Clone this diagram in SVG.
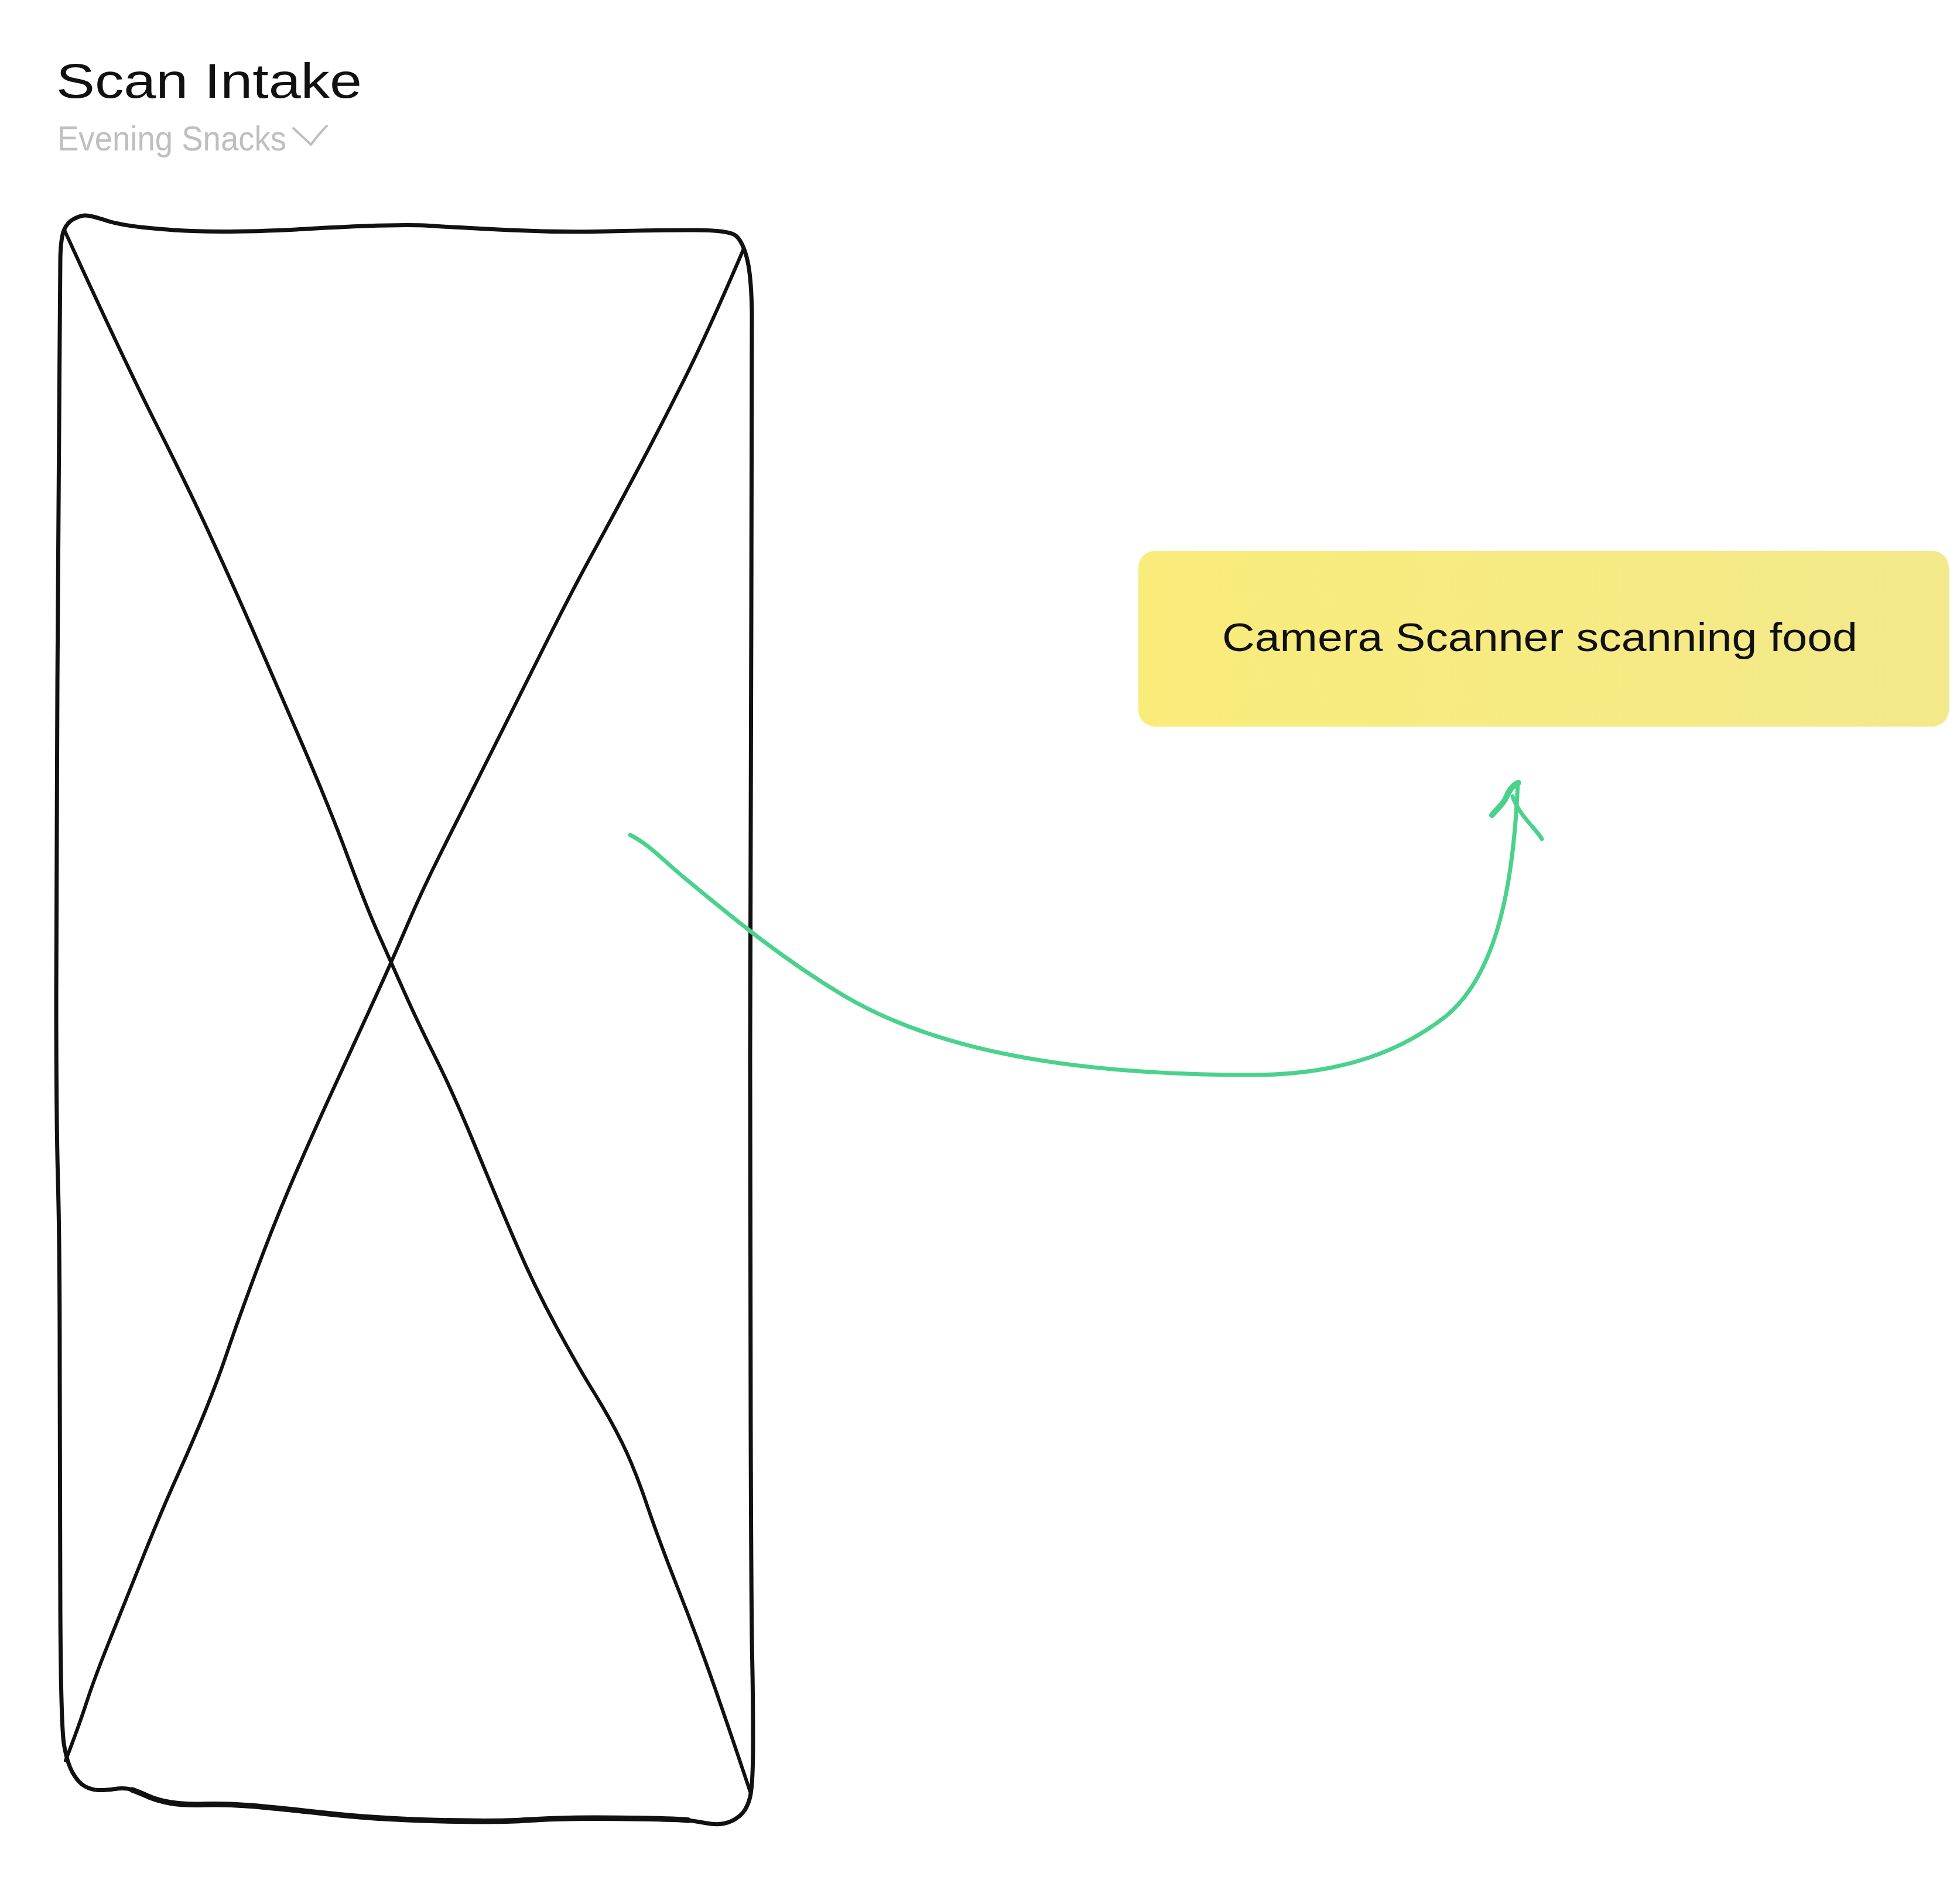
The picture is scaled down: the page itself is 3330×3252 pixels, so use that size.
<svg xmlns="http://www.w3.org/2000/svg" width="3330" height="3252" viewBox="0 0 3330 3252">
<style>
.ink{fill:none;stroke:#111;stroke-linecap:round;stroke-linejoin:round}
.conn{fill:none;stroke:#4ad28c;stroke-linecap:round;stroke-linejoin:round}
.hand{font-family:"Liberation Sans","DejaVu Sans",sans-serif}
</style>
<defs>
<linearGradient id="noteFill" x1="0" y1="0" x2="1" y2="0">
<stop offset="0" stop-color="#f9ec7b"/>
<stop offset="1" stop-color="#f3e98b"/>
</linearGradient>
</defs>
<rect width="3330" height="3252" fill="#ffffff"/>
<g id="title">
<text class="hand" x="96" y="167" font-size="84" fill="#111" textLength="522" lengthAdjust="spacingAndGlyphs">Scan Intake</text>
</g>
<g id="subtitle">
<text class="hand" x="98" y="257" font-size="60" fill="#bfbfbf" textLength="391" lengthAdjust="spacingAndGlyphs">Evening Snacks</text>
<path d="M501,219 Q518,235 531,247 Q545,228 558,215" fill="none" stroke="#bfbfbf" stroke-width="4" stroke-linecap="round" stroke-linejoin="round"/>
</g>
<g id="phone-frame">
<path class="ink" stroke-width="7" d="M103,440 Q104,405 109.5,392.5 Q115,380 125,374.5 Q135,369 144,368 Q153,367 182.5,377 Q212,387 297,393 Q382,399 531,390.5 Q680,382 733,385.5 Q786,389 871,393 Q956,397 1041,395 Q1126,393 1185.5,393 Q1245,393 1256.5,402.5 Q1268,412 1275.5,441 Q1283,470 1284,535 Q1285,600 1283,1043.5 Q1281,1487 1281,1805.5 Q1281,2124 1282,2442.5 Q1283,2761 1284.5,2830.5 Q1286,2900 1286,2975 Q1286,3050 1280.5,3071 Q1275,3092 1262.5,3102 Q1250,3112 1236.5,3114.5 Q1223,3117 1206.5,3114 Q1190,3111 1175.5,3109 Q1161,3107 1094,3106 Q1027,3105 982.5,3105.5 Q938,3106 893,3109 Q848,3112 745.5,3109.5 Q643,3107 553.5,3097 Q464,3087 424,3084 Q384,3081 348.5,3082 Q313,3083 290.5,3079 Q268,3075 252.5,3068 Q237,3061 225.5,3057 Q214,3053 196.5,3055.5 Q179,3058 167.5,3057.5 Q156,3057 145,3051 Q134,3045 124.5,3028.5 Q115,3012 109.5,2981 Q104,2950 103,2749.5 Q102,2549 102,2336.5 Q102,2124 99,2017.5 Q96,1911 96,1699 Q96,1487 98,1168.5 Q100,850 101.5,645 L103,440 Z"/>
<path class="ink" stroke-width="9.5" d="M1175.5,3109 Q1161,3107 1094,3106 Q1027,3105 982.5,3105.5 Q938,3106 893,3109 Q848,3112 745.5,3109.5 Q643,3107 553.5,3097 Q464,3087 424,3084 Q384,3081 348.5,3082 Q313,3083 290.5,3079 Q268,3075 252.5,3068 Q237,3061 225.5,3057"/>
<path class="ink" stroke-width="6" d="M110,393 Q212,616 265.5,722 Q319,828 356,908 Q393,988 430,1072.5 Q467,1157 515,1268.5 Q563,1380 594.5,1465 Q626,1550 647.5,1598 Q669,1646 690,1693.5 Q711,1741 743,1805 Q775,1869 812,1959 Q849,2049 881,2123.5 Q913,2198 950.5,2267 Q988,2336 1014.5,2378.5 Q1041,2421 1062,2463.5 Q1083,2506 1104.5,2569.5 Q1126,2633 1159,2716.5 Q1192,2800 1221,2883.5 Q1250,2967 1281,3060"/>
<path class="ink" stroke-width="6" d="M1270,425 Q1211,563 1168.5,648 Q1126,733 1083.5,812.5 Q1041,892 1009,950.5 Q977,1009 934.5,1094 Q892,1179 839,1285 Q786,1391 754,1454.5 Q722,1518 695.5,1580 Q669,1642 642.5,1700 Q616,1758 573.5,1850.5 Q531,1943 499,2017.5 Q467,2092 435.5,2177 Q404,2262 388,2309.5 Q372,2357 350.5,2410 Q329,2463 302.5,2521.5 Q276,2580 244,2660 Q212,2740 186.5,2803.5 Q161,2867 147.5,2908.5 Q134,2950 112,3007"/>
</g>
<g id="camera-note">
<rect x="1944" y="941" width="1384" height="300" rx="28" ry="28" fill="url(#noteFill)"/>
<text class="hand" x="2087" y="1112" font-size="68" fill="#111" textLength="1085" lengthAdjust="spacingAndGlyphs">Camera Scanner scanning food</text>
</g>
<g id="connectors">
<path class="conn" stroke-width="7" d="M1076,1426 C1110,1443 1135,1472 1172,1502 C1260,1575 1340,1640 1440,1700 C1600,1795 1830,1835 2130,1836 C2300,1837 2400,1790 2470,1735 C2560,1660 2585,1500 2592,1338"/>
<path class="conn" stroke-width="10" d="M2548,1392 C2560,1378 2568,1372 2572,1362 C2578,1348 2585,1340 2593,1337"/>
<path class="conn" stroke-width="7" d="M2583,1360 C2588,1376 2598,1390 2610,1404 C2620,1416 2628,1424 2633,1433"/>
</g>
</svg>
